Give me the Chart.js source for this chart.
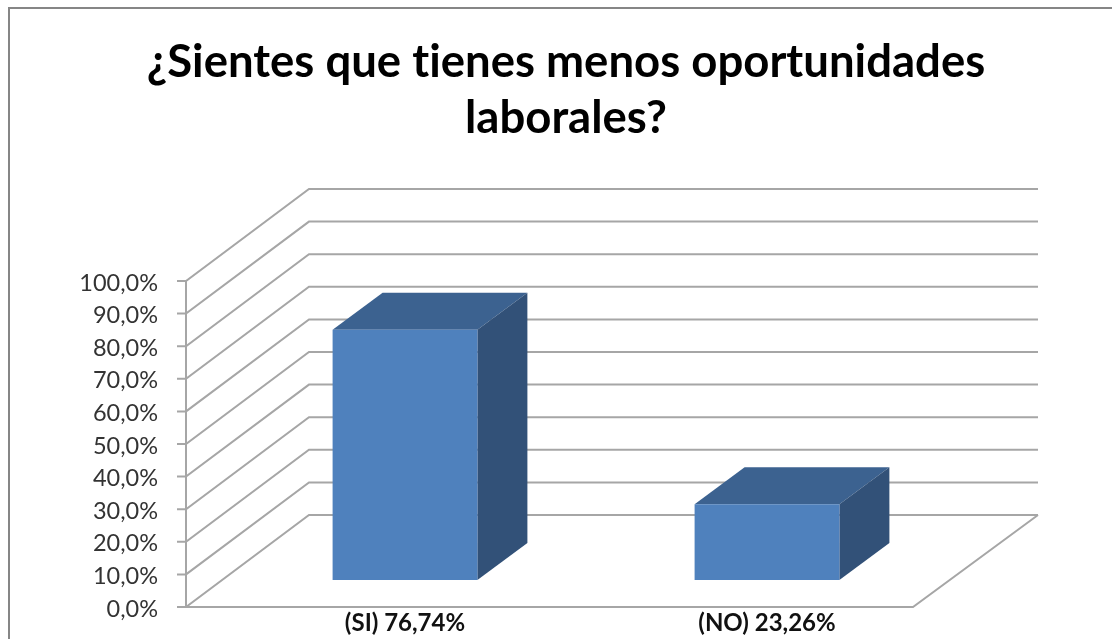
<!DOCTYPE html>
<html>
<head>
<meta charset="utf-8">
<title>Oportunidades laborales</title>
<script src="https://cdn.jsdelivr.net/npm/chart.js@4"></script>
<style>
    html, body { margin: 0; padding: 0; background: #fff; overflow: hidden; }
    canvas { display: block; }
</style>
</head>
<body>
<canvas id="canvas-chart" width="1112" height="639"></canvas>
<script>
const titleLines = ["¿Sientes que tienes menos oportunidades", "laborales?"];
const categories = ["(SI) 76,74%", "(NO) 23,26%"];
const percentValues = [76.74, 23.26];
const yTicks = [0, 10, 20, 30, 40, 50, 60, 70, 80, 90, 100];

const gridColor = "#a6a6a6";
const frameColor = "#868686";

// fake 3d: draws frame, walls and the bar sides around what chart.js draws
const fake3d = {
    id: "fake3d",
    beforeDraw(chart) {
        // lato's "ti" ligature does not belong in this title
        chart.ctx.textRendering = "optimizeSpeed";
    },
    beforeDatasetsDraw(chart) {
        const ctx = chart.ctx;
        const y = chart.scales.y;
        const area = chart.chartArea;
        const frontX = area.left - 38;
        const floorRight = area.right - 35;
        const depthX = 123;
        const depthY = 92;
        const wallRight = frontX + depthX + 729;

        ctx.save();
        ctx.strokeStyle = frameColor;
        ctx.lineWidth = 2;
        ctx.beginPath();
        ctx.moveTo(9, chart.height);
        ctx.lineTo(9, 8);
        ctx.lineTo(chart.width, 8);
        ctx.stroke();

        ctx.strokeStyle = gridColor;
        ctx.lineWidth = 2;
        yTicks.forEach(t => {
            const py = y.getPixelForValue(t);
            ctx.beginPath();
            ctx.moveTo(frontX - 9, py);
            ctx.lineTo(frontX, py);
            ctx.lineTo(frontX + depthX, py - depthY);
            ctx.lineTo(wallRight, py - depthY);
            ctx.stroke();
        });

        // axis and floor
        const zero = y.getPixelForValue(0);
        ctx.beginPath();
        ctx.moveTo(frontX, y.getPixelForValue(100));
        ctx.lineTo(frontX, zero);
        ctx.lineTo(floorRight, zero);
        ctx.lineTo(wallRight, zero - depthY);
        ctx.stroke();

        // bar top and side
        const barDx = 50;
        const barDy = 37;
        chart.getDatasetMeta(0).data.forEach(bar => {
            const left = bar.x - bar.width / 2;
            const right = bar.x + bar.width / 2;
            ctx.fillStyle = "#3c6290";
            ctx.beginPath();
            ctx.moveTo(left, bar.y);
            ctx.lineTo(left + barDx, bar.y - barDy);
            ctx.lineTo(right + barDx, bar.y - barDy);
            ctx.lineTo(right, bar.y);
            ctx.closePath();
            ctx.fill();
            ctx.fillStyle = "#325178";
            ctx.beginPath();
            ctx.moveTo(right, bar.y);
            ctx.lineTo(right + barDx, bar.y - barDy);
            ctx.lineTo(right + barDx, bar.base - barDy);
            ctx.lineTo(right, bar.base);
            ctx.closePath();
            ctx.fill();
        });
        ctx.restore();
    }
};

const config = {
    type: "bar",
    data: {
        labels: categories,
        datasets: [{
            label: "Porcentaje",
            data: percentValues,
            yAxisID: "yBar",
            backgroundColor: "#4f81bd",
            barPercentage: 0.4,
            categoryPercentage: 1
        }]
    },
    plugins: [fake3d],
    options: {
        responsive: false,
        animation: false,
        layout: {
            padding: { left: 20, right: 0, top: 0, bottom: 0 }
        },
        plugins: {
            legend: { display: false },
            tooltip: { enabled: false },
            title: {
                display: true,
                text: titleLines,
                color: "#000",
                font: { family: "Lato", size: 45.5, weight: "bold", lineHeight: 56 / 45.5 },
                padding: { top: 34, bottom: 135 }
            }
        },
        scales: {
            x: {
                grid: { display: false, drawTicks: false },
                border: { display: false },
                afterFit: scale => { scale.height = 32; },
                ticks: {
                    autoSkip: false,
                    maxRotation: 0,
                    padding: 2,
                    color: "#111",
                    font: { family: "Lato", size: 24, weight: "bold" }
                }
            },
            y: {
                min: 0,
                max: 100,
                grid: { display: false, drawTicks: false },
                border: { display: false },
                // tick padding also counts as top/bottom room, take that back
                afterFit: scale => {
                    scale.width = 204;
                    scale.paddingTop = 0;
                    scale.paddingBottom = 0;
                },
                afterBuildTicks: scale => { scale.ticks = yTicks.map(v => ({ value: v })); },
                ticks: {
                    padding: 66,
                    labelOffset: 2,
                    color: "#333",
                    font: { family: "Lato", size: 23.5 },
                    callback: v => v.toFixed(1).replace(".", ",") + "%"
                }
            },
            // same pixels as y, zero moved up so the bars stand inside the floor.
            // sits on the right with no marks, only to hold the right margin
            yBar: {
                position: "right",
                min: -8.28,
                max: 91.72,
                grid: { display: false, drawTicks: false },
                border: { display: false },
                ticks: { display: false },
                afterFit: scale => {
                    scale.width = 164;
                    scale.paddingTop = 0;
                    scale.paddingBottom = 0;
                }
            }
        }
    }
};

const ctx = document.getElementById("canvas-chart").getContext("2d");
const myChart = new Chart(ctx, config);
</script>
</body>
</html>
